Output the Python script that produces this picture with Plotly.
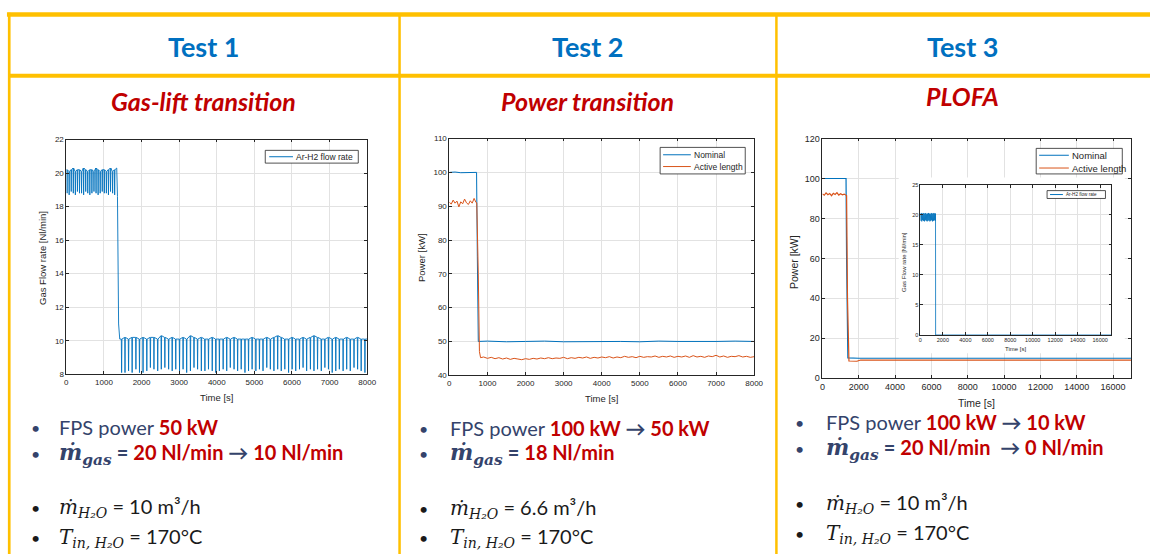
import plotly.graph_objects as go

W, H = 1159, 559

BLUE = "#0072BD"
ORANGE = "#D95319"
YELLOW = "#FFC000"
HEAD_BLUE = "#0070C0"
RED = "#C00000"
NAVY = "#34436B"
INK = "#262626"

# ---------------------------------------------------------------- data
# Test 1: Ar-H2 flow rate [Nl/min]; each dip = (time, bottom, plateau level)
T1_PRE_DIP_T = [20, 75, 130, 185, 240, 295, 350, 405, 460, 515, 570, 625,
                680, 735, 790, 845, 900, 955, 1010, 1065, 1120, 1175, 1230, 1285]
T1_PRE_LOW = [18.8, 18.7, 18.9, 18.8, 18.7, 18.9, 18.8, 18.8, 18.7, 18.9, 18.8, 18.7,
              18.8, 18.9, 18.8, 18.7, 18.8, 18.9, 18.8, 18.8, 18.7, 18.9, 18.8, 18.7]
T1_PRE_TOP = [20.2, 20.1, 20.2, 20.3, 20.1, 20.2, 20.2, 20.1, 20.3, 20.2, 20.1, 20.2,
              20.2, 20.1, 20.3, 20.2, 20.1, 20.2, 20.2, 20.1, 20.2, 20.3, 20.1, 20.2]
T1_STEP_T = [1340, 1360, 1390, 1420]
T1_STEP_Q = [20.3, 18.6, 11.0, 10.1]
T1_POST_DIP_T = [1470, 1560, 1655, 1750, 1850, 1945, 2040, 2140, 2235, 2330, 2430, 2525,
                 2620, 2720, 2815, 2910, 3010, 3105, 3200, 3300, 3395, 3490, 3590, 3685,
                 3780, 3880, 3975, 4070, 4170, 4265, 4360, 4460, 4555, 4650, 4750, 4845,
                 4940, 5040, 5135, 5230, 5330, 5425, 5520, 5620, 5715, 5810, 5910, 6005,
                 6100, 6200, 6295, 6390, 6490, 6585, 6680, 6780, 6875, 6970, 7070, 7165,
                 7260, 7360, 7455, 7550, 7650, 7745, 7840, 7940]
T1_POST_LOW = [8.1, 8.1, 8.2, 8.1, 8.3, 8.1, 8.1, 8.2, 8.4, 8.3, 8.2, 8.3,
               8.4, 8.3, 8.2, 8.3, 8.2, 8.3, 8.1, 8.2, 8.4, 8.3, 8.2, 8.2,
               8.3, 8.2, 8.1, 8.2, 8.3, 8.2, 8.4, 8.3, 8.2, 8.3, 8.1, 8.2,
               8.3, 8.2, 8.3, 8.2, 8.4, 8.3, 8.2, 8.3, 8.2, 8.3, 8.1, 8.3,
               8.2, 8.3, 8.4, 8.2, 8.3, 8.2, 8.3, 8.2, 8.4, 8.3, 8.1, 8.2,
               8.3, 8.2, 8.3, 8.2, 8.4, 8.3, 8.2, 8.1]
T1_POST_TOP = [10.1, 10.2, 10.1, 10.2, 10.2, 10.1, 10.2, 10.1, 10.2, 10.2, 10.1, 10.3,
               10.2, 10.1, 10.2, 10.1, 10.1, 10.2, 10.1, 10.3, 10.2, 10.1, 10.2, 10.1,
               10.1, 10.2, 10.1, 10.1, 10.1, 10.2, 10.1, 10.2, 10.1, 10.1, 10.1, 10.1,
               10.2, 10.1, 10.1, 10.1, 10.2, 10.1, 10.2, 10.3, 10.2, 10.1, 10.1, 10.2,
               10.1, 10.1, 10.2, 10.1, 10.2, 10.3, 10.2, 10.1, 10.1, 10.2, 10.1, 10.2,
               10.1, 10.1, 10.2, 10.1, 10.1, 10.2, 10.1, 10.1]
T1_END_T, T1_END_Q = 8000, 10.1

# Test 2: FPS power [kW]
T2_NOM_T = [0, 150, 300, 450, 600, 715, 735, 760, 1000, 1500, 2000, 2500, 3000, 3500,
            4000, 4500, 5000, 5500, 6000, 6500, 7000, 7500, 8000]
T2_NOM_P = [100.0, 100.1, 99.9, 100.0, 100.1, 100.0, 75.0, 50.0, 50.1, 49.9, 50.0, 50.1,
            49.9, 50.0, 50.1, 50.0, 49.9, 50.1, 50.0, 49.9, 50.0, 50.1, 50.0]
T2_ACT_T = [0, 50, 100, 150, 200, 250, 300, 350, 400, 450, 500, 550, 600, 650, 700,
            720, 760, 790, 820,
            900, 1000, 1100, 1200, 1300, 1400, 1500, 1600, 1700, 1800, 1900, 2000,
            2100, 2200, 2300, 2400, 2500, 2600, 2700, 2800, 2900, 3000,
            3100, 3200, 3300, 3400, 3500, 3600, 3700, 3800, 3900, 4000,
            4100, 4200, 4300, 4400, 4500, 4600, 4700, 4800, 4900, 5000,
            5100, 5200, 5300, 5400, 5500, 5600, 5700, 5800, 5900, 6000,
            6100, 6200, 6300, 6400, 6500, 6600, 6700, 6800, 6900, 7000,
            7100, 7200, 7300, 7400, 7500, 7600, 7700, 7800, 7900, 8000]
T2_ACT_P = [91.2, 90.6, 91.8, 90.9, 91.5, 89.8, 91.3, 90.7, 92.1, 91.0, 90.5, 91.6, 90.9, 92.3, 91.1,
            91.0, 70.0, 47.0, 45.2,
            45.4, 45.0, 45.3, 44.9, 45.2, 44.8, 45.1, 44.7, 45.0, 44.8, 44.6, 44.9,
            44.7, 45.0, 44.8, 45.1, 44.9, 45.2, 44.9, 45.1, 45.0, 45.3,
            44.9, 45.2, 45.0, 45.3, 45.1, 45.4, 45.0, 45.3, 45.1, 45.4,
            45.2, 45.5, 45.1, 45.4, 45.2, 45.6, 45.3, 45.5, 45.2, 45.6,
            45.3, 45.5, 45.4, 45.7, 45.3, 45.6, 45.4, 45.7, 45.3, 45.6,
            45.4, 45.7, 45.3, 45.8, 45.4, 45.6, 45.3, 45.7, 45.5, 45.9,
            45.4, 45.7, 45.3, 45.6, 45.5, 45.8, 45.4, 45.6, 45.3, 45.5]

# Test 3: PLOFA, power [kW]
T3_NOM_T = [0, 1300, 1330, 1360, 1400, 2000, 6000, 10000, 14000, 17000]
T3_NOM_P = [100.0, 100.0, 60.0, 16.0, 10.2, 10.0, 10.0, 10.1, 10.0, 10.0]
T3_ACT_T = [0, 100, 200, 300, 400, 500, 600, 700, 800, 900, 1000, 1100, 1200, 1300,
            1330, 1380, 1420, 1460, 1900, 2000, 2100, 17000]
T3_ACT_P = [92.3, 91.6, 92.8, 91.9, 92.5, 91.4, 92.6, 92.0, 92.9, 91.7, 92.4, 91.8, 92.2, 91.6,
            91.5, 40.0, 12.0, 8.6, 8.5, 8.9, 9.1, 9.1]
# Test 3 inset: Ar-H2 flow rate [Nl/min]
T3_GAS_T = [0, 40, 80, 120, 160, 200, 240, 280, 320, 360, 400, 440, 480, 520, 560, 600, 640,
            680, 720, 760, 800, 840, 880, 920, 960, 1000, 1040, 1080, 1120, 1160, 1200,
            1240, 1280, 1320, 1345, 1355, 17000]
T3_GAS_Q = [20.2, 19.0, 20.3, 18.9, 20.1, 19.1, 20.3, 19.0, 20.2, 18.9, 20.2, 19.1, 20.3,
            19.0, 20.1, 18.9, 20.2, 19.0, 20.3, 19.1, 20.2, 18.9, 20.1, 19.0, 20.3, 19.1,
            20.2, 18.9, 20.2, 19.0, 20.3, 19.1, 20.2, 19.0, 20.2, 0.0, 0.0]

TESTS = ["Test 1", "Test 2", "Test 3"]
SUBTITLES = ["Gas-lift transition", "Power transition", "PLOFA"]
FPS_POWER = [["50 kW"], ["100 kW", "50 kW"], ["100 kW", "10 kW"]]
GAS_FLOW = [["20 Nl/min", "10 Nl/min"], ["18 Nl/min"], ["20 Nl/min ", "0 Nl/min"]]
WATER_FLOW = ["10", "6.6", "10"]
WATER_TEMP = ["170°C", "170°C", "170°C"]


# ---------------------------------------------------------------- helpers
def px(x):
    return x / W


def py(y):
    return 1 - y / H


def dips_to_line(times, lows, tops, half=8):
    xs, ys = [], []
    for t, lo, top in zip(times, lows, tops):
        xs += [t - half, t, t + half]
        ys += [top, lo, top]
    return xs, ys


def axis(box_lo, box_hi, rng, dtick, size, vertical=False):
    dom = [py(box_hi), py(box_lo)] if vertical else [px(box_lo), px(box_hi)]
    return dict(
        domain=dom, range=rng, dtick=dtick, tick0=0, showgrid=True,
        gridcolor="#E2E2E2", gridwidth=1, zeroline=False, showline=True,
        linecolor=INK, linewidth=0.8, mirror="ticks", ticks="inside",
        ticklen=3, tickcolor=INK, fixedrange=True, tickformat="d",
        tickfont=dict(family="Liberation Sans, Arial", size=size, color=INK),
    )


fig = go.Figure()

# Test 1
pre_x, pre_y = dips_to_line(T1_PRE_DIP_T, T1_PRE_LOW, T1_PRE_TOP)
post_x, post_y = dips_to_line(T1_POST_DIP_T, T1_POST_LOW, T1_POST_TOP)
fig.add_trace(go.Scatter(
    x=[0] + pre_x + T1_STEP_T + post_x + [T1_END_T],
    y=[T1_PRE_TOP[0]] + pre_y + T1_STEP_Q + post_y + [T1_END_Q],
    mode="lines", line=dict(color=BLUE, width=0.9), xaxis="x", yaxis="y"))

# Test 2
fig.add_trace(go.Scatter(x=T2_NOM_T, y=T2_NOM_P, mode="lines",
                         line=dict(color=BLUE, width=1), xaxis="x2", yaxis="y2"))
fig.add_trace(go.Scatter(x=T2_ACT_T, y=T2_ACT_P, mode="lines",
                         line=dict(color=ORANGE, width=1), xaxis="x2", yaxis="y2"))

# Test 3
fig.add_trace(go.Scatter(x=T3_NOM_T, y=T3_NOM_P, mode="lines",
                         line=dict(color=BLUE, width=1.2), xaxis="x3", yaxis="y3"))
fig.add_trace(go.Scatter(x=T3_ACT_T, y=T3_ACT_P, mode="lines",
                         line=dict(color=ORANGE, width=1.2), xaxis="x3", yaxis="y3"))
# white card behind the inset
fig.add_trace(go.Scatter(x=[4200, 16650, 16650, 4200, 4200], y=[100.5, 100.5, 12.5, 12.5, 100.5],
                         mode="lines", fill="toself", fillcolor="white",
                         line=dict(width=0, color="white"), hoverinfo="skip",
                         xaxis="x3", yaxis="y3"))
fig.add_trace(go.Scatter(x=T3_GAS_T, y=T3_GAS_Q, mode="lines",
                         line=dict(color=BLUE, width=0.8), xaxis="x4", yaxis="y4"))

fig.update_layout(
    width=W, height=H, margin=dict(l=0, r=0, t=0, b=0),
    paper_bgcolor="white", plot_bgcolor="white", showlegend=False,
    xaxis=axis(64, 368, [0, 8000], 1000, 8),
    yaxis=axis(137, 376, [8, 22], 2, 8, vertical=True),
    xaxis2=axis(451, 759, [0, 8000], 1000, 8),
    yaxis2=axis(136, 377, [40, 110], 10, 8, vertical=True),
    xaxis3=axis(828, 1140, [0, 17000], 2000, 9),
    yaxis3=axis(136, 380, [0, 120], 20, 9, vertical=True),
    xaxis4=axis(927, 1120, [0, 17000], 2000, 5.5),
    yaxis4=axis(183, 336, [0, 25], 5, 5.5, vertical=True),
)
for ax in ["yaxis", "yaxis2", "yaxis3", "yaxis4"]:
    fig.layout[ax].anchor = "x" + ax[5:]
for ax in ["xaxis", "xaxis2", "xaxis3", "xaxis4"]:
    fig.layout[ax].anchor = "y" + ax[5:]

shapes = []
annots = []


def line(x0, y0, x1, y1, color, width):
    shapes.append(dict(type="line", xref="paper", yref="paper", x0=px(x0), y0=py(y0),
                       x1=px(x1), y1=py(y1), line=dict(color=color, width=width),
                       layer="above"))


def text(x, y, s, size, color=INK, family="Liberation Sans, Arial", xanchor="center",
         angle=0):
    annots.append(dict(xref="paper", yref="paper", x=px(x), y=py(y), text=s,
                       showarrow=False, xanchor=xanchor, yanchor="middle",
                       textangle=angle, font=dict(family=family, size=size, color=color)))


# table frame
line(4, 9.7, W, 9.7, YELLOW, 4.5)
line(6.3, 8, 6.3, H, YELLOW, 2.7)
line(6, 72, W, 72, YELLOW, 4)
line(400.7, 11, 400.7, H, YELLOW, 2.5)
line(781.5, 11, 781.5, H, YELLOW, 2.5)

# headers
for cx, title, sub, sy in zip([203, 591, 970], TESTS, SUBTITLES, [98, 98, 93]):
    text(cx, 42, "<b>%s</b>" % title, 27, HEAD_BLUE, "Lato")
    text(cx, sy, "<b><i>%s</i></b>" % sub, 25, RED, "Lato")


# legends
def legend(box, items, size, lx0, lx1):
    x0, y0, x1, y1 = box
    shapes.append(dict(type="rect", xref="paper", yref="paper", x0=px(x0), x1=px(x1),
                       y0=py(y1), y1=py(y0), fillcolor="white",
                       line=dict(color=INK, width=0.8), layer="above"))
    for name, color, yy in items:
        line(lx0, yy, lx1, yy, color, 1)
        text(lx1 + 1, yy, name, size, INK, xanchor="left")


legend((265, 148, 359, 161), [("Ar-H2 flow rate", BLUE, 154.5)], 8.5, 269, 293)
legend((664, 145, 750, 172), [("Nominal", BLUE, 152.5), ("Active length", ORANGE, 164.5)],
       8.5, 667, 695)
legend((1044, 146, 1131, 172), [("Nominal", BLUE, 153), ("Active length", ORANGE, 166)],
       9.5, 1047, 1077)
legend((1055, 189, 1114, 197), [("Ar-H2 flow rate", BLUE, 193)], 4.6, 1058, 1071)

# axis titles
text(40, 258, "Gas Flow rate [Nl/min]", 9.5, angle=-90)
text(216, 400, "Time [s]", 9.5)
text(423, 257, "Power [kW]", 9.5, angle=-90)
text(605, 401, "Time [s]", 9.5)
text(800, 262, "Power [kW]", 10.5, angle=-90)
text(984, 405, "Time [s]", 10.5)
text(911, 262, "Gas Flow rate [Nl/min]", 6, angle=-90)
text(1023, 350, "Time [s]", 6)

# bullet lists
MATH = "font-family:'DejaVu Serif'"
for bx, tx, ys, fps, gas, wat, tmp in zip(
        [33, 425, 805], [55, 450, 830],
        [[430, 457, 512, 542], [431, 457, 513, 542], [425, 452, 508, 538]],
        FPS_POWER, GAS_FLOW, WATER_FLOW, WATER_TEMP):
    red = ['<span style="color:%s">%s</span>' % (RED, v) for v in fps]
    l1 = "FPS power <b>%s</b>" % " → ".join(red)
    red = ['<span style="color:%s">%s</span>' % (RED, v) for v in gas]
    l2 = ('<span style="%s;font-size:22px"><b><i>ṁ</i></b><sub><b><i>gas</i></b></sub></span>'
          ' <b>= %s</b>' % (MATH, " → ".join(red)))
    l3 = ('<span style="%s"><i>ṁ</i><sub><i>H₂O</i></sub></span>'
          ' = %s m³/h' % (MATH, wat))
    l4 = ('<span style="%s"><i>T</i><sub><i>in, H₂O</i></sub></span>'
          ' = %s' % (MATH, tmp))
    for yy, s, col in zip(ys, [l1, l2, l3, l4], [NAVY, NAVY, "#1A1A1A", "#1A1A1A"]):
        text(bx, yy, "•", 16, col, "Lato")
        text(tx, yy, s, 20, col, "Lato", xanchor="left")

fig.update_layout(shapes=shapes, annotations=annots)
fig.write_html(
    "out.html", config={"displayModeBar": False},
    post_script="var s=document.createElement('style');"
                "s.textContent='html,body{margin:0;padding:0;overflow:hidden;"
                "width:1159px;height:559px;}';document.head.appendChild(s);")
